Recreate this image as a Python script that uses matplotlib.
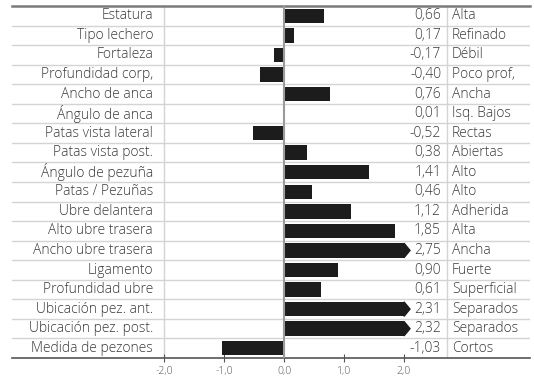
import matplotlib
matplotlib.use('Agg')
from matplotlib import pyplot as plt
from matplotlib.patches import Polygon

traits = ['Estatura', 'Tipo lechero', 'Fortaleza', 'Profundidad corp,', 'Ancho de anca',
          'Ángulo de anca', 'Patas vista lateral', 'Patas vista post.', 'Ángulo de pezuña',
          'Patas / Pezuñas', 'Ubre delantera', 'Alto ubre trasera', 'Ancho ubre trasera',
          'Ligamento', 'Profundidad ubre', 'Ubicación pez. ant.', 'Ubicación pez. post.',
          'Medida de pezones']
values = [0.66, 0.17, -0.17, -0.40, 0.76, 0.01, -0.52, 0.38, 1.41, 0.46, 1.12, 1.85,
          2.75, 0.90, 0.61, 2.31, 2.32, -1.03]
descriptors = ['Alta', 'Refinado', 'Débil', 'Poco prof,', 'Ancha', 'Isq. Bajos', 'Rectas',
               'Abiertas', 'Alto', 'Alto', 'Adherida', 'Alta', 'Ancha', 'Fuerte',
               'Superficial', 'Separados', 'Separados', 'Cortos']
ticks = [-2.0, -1.0, 0.0, 1.0, 2.0]

plt.rcParams['font.family'] = ['Open Sans', 'DejaVu Sans']

W, H = 534, 380
fig = plt.figure(figsize=(W / 100, H / 100), dpi=100)
ax = fig.add_axes([12 / W, 22 / H, 518 / W, 352 / H])

px = 60.0  # pixels per unit
x0 = 284
ax.set_xlim((12 - x0) / px, (530 - x0) / px)
n = len(traits)
ax.set_ylim(n - 0.5, -0.5)

cap = 2.0
bar_h = 0.74
color = '#1c1c1c'
for i, v in enumerate(values):
    w = min(v, cap)
    ax.barh(i, w, height=bar_h, color=color, zorder=3)
    if v > cap:
        tri = Polygon([(cap, i - bar_h / 2), (cap + 0.1, i), (cap, i + bar_h / 2)],
                      closed=True, color=color, zorder=3)
        ax.add_patch(tri)

# row lines
for i in range(n - 1):
    ax.axhline(i + 0.5, color='#d4d4d4', lw=1, zorder=1)

# column lines
ax.axvline(-2.0, color='#d4d4d4', lw=1, zorder=1)
ax.axvline((447 - x0) / px, color='#d4d4d4', lw=1, zorder=1)
ax.axvline(0, color='#9a9a9a', lw=1.5, zorder=4)

fs = 10
tc = '#3a3a3a'
for i in range(n):
    ax.text((153 - x0) / px, i, traits[i], ha='right', va='center', fontsize=fs, color=tc,
            fontweight='light')
    ax.text((441 - x0) / px, i, f'{values[i]:.2f}'.replace('.', ','), ha='right', va='center',
            fontsize=fs, color=tc, fontweight='light')
    ax.text((452 - x0) / px, i, descriptors[i], ha='left', va='center', fontsize=fs,
            color=tc, fontweight='light')

ax.set_xticks(ticks)
ax.set_xticklabels([f'{t:.1f}'.replace('.', ',') for t in ticks], fontsize=7.5, color='#555555',
                   fontweight='light')
ax.tick_params(axis='x', direction='inout', length=6, color='#555555', pad=3)
ax.set_yticks([])

for s in ['left', 'right']:
    ax.spines[s].set_visible(False)
ax.spines['top'].set_color('#7a7a7a')
ax.spines['top'].set_linewidth(1.8)
ax.spines['bottom'].set_color('#555555')
ax.spines['bottom'].set_linewidth(1.2)

fig.savefig('out.png', dpi=100)
